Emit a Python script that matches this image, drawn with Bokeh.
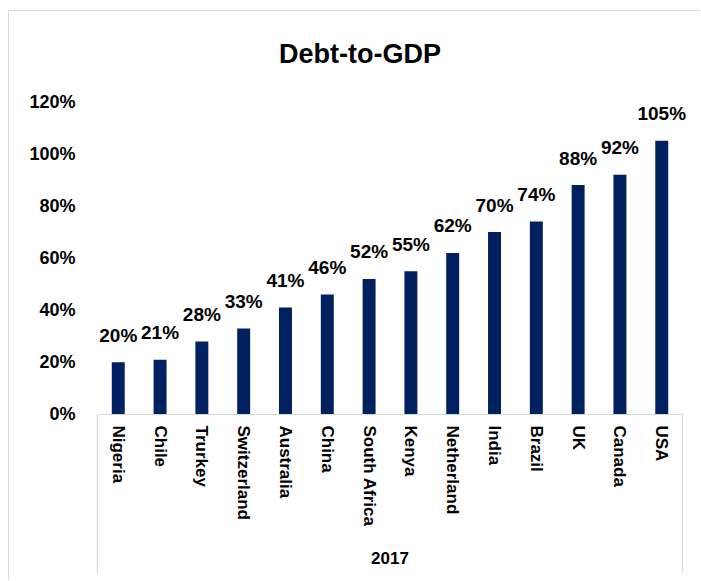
from bokeh.plotting import figure
from bokeh.models import (FactorRange, Range1d, ColumnDataSource, Label,
                          PrintfTickFormatter)
from bokeh.embed import file_html
from bokeh.resources import INLINE

# ---- data ----
countries = ["Nigeria", "Chile", "Trurkey", "Switzerland", "Australia", "China",
             "South Africa", "Kenya", "Netherland", "India", "Brazil", "UK",
             "Canada", "USA"]
debt_pct = [20, 21, 28, 33, 41, 46, 52, 55, 62, 70, 74, 88, 92, 105]
y_ticks = [0, 20, 40, 60, 80, 100, 120]
group_label = "2017"
title_text = "Debt-to-GDP"

# ---- style ----
FONT = "Liberation Sans"
NAVY = "#002060"
LINE_GREY = "#d9d9d9"
LABEL_DEPTH = -61          # how far (in y units) the category box reaches below 0
HEADROOM = 150             # top of drawing area (room for the title)

src = ColumnDataSource(dict(country=countries, debt=debt_pct))

p = figure(x_range=FactorRange(factors=countries, range_padding=0.02,
                               range_padding_units="percent"),
           y_range=Range1d(LABEL_DEPTH, HEADROOM),
           width=692, height=570,
           output_backend="svg", toolbar_location=None,
           min_border_left=82, min_border_right=13,
           min_border_top=12, min_border_bottom=8)
p.styles = {"margin-left": "8px", "margin-top": "10px",
            "border-left": "1px solid #d9d9d9", "border-top": "1px solid #d9d9d9"}

p.vbar(x="country", top="debt", width=0.31, source=src,
       fill_color=NAVY, line_color=None)

# category axis line and the two group separators (range edges of the factors)
n = len(countries)
frame_src = ColumnDataSource(dict(x0=[0, 0, n], y0=[0, 0, 0],
                                  x1=[n, 0, n], y1=[0, LABEL_DEPTH, LABEL_DEPTH]))
p.segment(x0="x0", y0="y0", x1="x1", y1="y1", source=frame_src,
          line_color=LINE_GREY, line_width=1)

# value labels above the bars (factor i sits at synthetic coordinate i + 0.5)
for i, v in enumerate(debt_pct):
    p.add_layout(Label(x=i + 0.5, y=v, text=f"{v}%", y_offset=27,
                       text_align="center", text_baseline="alphabetic",
                       text_font=FONT, text_font_style="bold",
                       text_font_size="19px", text_color="black"))

# chart title
p.add_layout(Label(x=n / 2, y=y_ticks[-1], text=title_text,
                   x_offset=-30, y_offset=48,
                   text_align="center", text_baseline="alphabetic",
                   text_font=FONT, text_font_style="bold",
                   text_font_size="27px", text_color="black"))

# axes
p.outline_line_color = None
p.xgrid.grid_line_color = None
p.ygrid.grid_line_color = None

ya = p.yaxis[0]
ya.ticker = y_ticks
ya.formatter = PrintfTickFormatter(format="%d%%")
ya.axis_line_color = None
ya.major_tick_line_color = None
ya.minor_tick_line_color = None
ya.major_tick_out = 0
ya.major_tick_in = 0
ya.major_label_standoff = 16
ya.major_label_text_font = FONT
ya.major_label_text_font_style = "bold"
ya.major_label_text_font_size = "18px"
ya.major_label_text_color = "black"

xa = p.xaxis[0]
xa.fixed_location = 0
xa.axis_line_color = None
xa.major_tick_line_color = None
xa.major_tick_out = 0
xa.major_tick_in = 0
xa.major_label_orientation = "vertical"
xa.major_label_standoff = 11
xa.major_label_text_font = FONT
xa.major_label_text_font_style = "bold"
xa.major_label_text_font_size = "17px"
xa.major_label_text_color = "black"
xa.axis_label = group_label
xa.axis_label_standoff = 22
xa.axis_label_text_font = FONT
xa.axis_label_text_font_style = "bold"
xa.axis_label_text_font_size = "17px"
xa.axis_label_text_color = "black"

open("out.html", "w").write(file_html(p, INLINE))
